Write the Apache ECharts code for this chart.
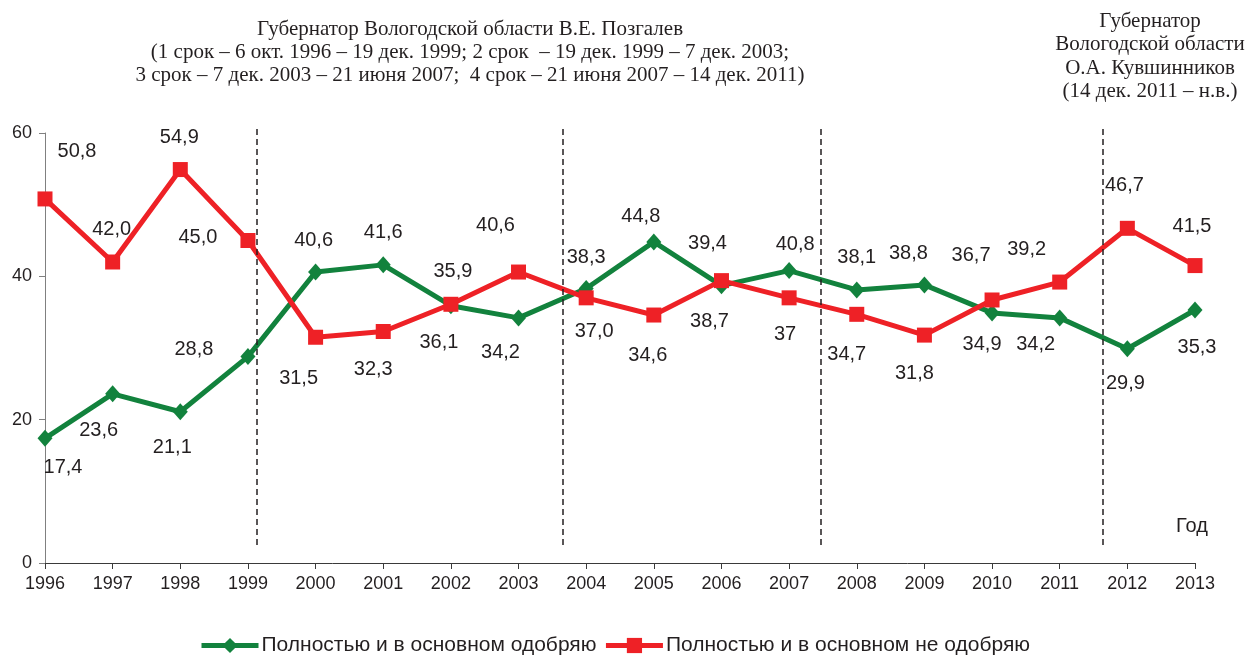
<!DOCTYPE html>
<html>
<head>
<meta charset="utf-8">
<script src="https://cdn.jsdelivr.net/npm/echarts@6/dist/echarts.min.js"></script>
<style>
html,body{margin:0;padding:0;background:#fff;}
#chart{width:1249px;height:657px;}
</style>
</head>
<body>
<div id="chart"></div>
<script>
// ---- data ----
const years = [1996,1997,1998,1999,2000,2001,2002,2003,2004,2005,2006,2007,2008,2009,2010,2011,2012,2013];
const approve = [17.4,23.6,21.1,28.8,40.6,41.6,35.9,34.2,38.3,44.8,38.7,40.8,38.1,38.8,34.9,34.2,29.9,35.3];
const disapprove = [50.8,42.0,54.9,45.0,31.5,32.3,36.1,40.6,37.0,34.6,39.4,37,34.7,31.8,36.7,39.2,46.7,41.5];
const seriesNames = ['Полностью и в основном одобряю', 'Полностью и в основном не одобряю'];
const yTicks = [0, 20, 40, 60];
const termBoundaries = [1999.13, 2003.65, 2007.47, 2011.64];
const integerLabelYearsDisapprove = [2007];

// ---- label layout (style, not data) ----
const approveLabelOffsets = [[18,29],[-14,37],[-8,36],[-54,-7],[-2,-32],[0,-32],[2,-34],[-18,35],[0,-31],[-13,-25],[-12,36],[6,-26],[0,-32],[-16,-31],[-10,32],[-24,27],[-2,35],[2,37]];
const disapproveLabelOffsets = [[32,-47],[-1,-33],[-1,-32],[-50,-3],[-17,41],[-10,38],[-12,38],[-23,-47],[8,34],[-6,40],[-14,-37],[-4,37],[-10,40],[-10,38],[-21,-44],[-33,-33],[-3,-43],[-3,-39]];

const GREEN = '#12823D';
const RED = '#EE2126';
const TEXT = '#231F20';
const SANS = '"Liberation Sans", Arial, sans-serif';
const SERIF = '"Liberation Serif", "Times New Roman", serif';

function fmt(v, integerYears, year) {
  if (integerYears && integerYears.indexOf(year) >= 0) return String(Math.round(v));
  return v.toFixed(1).replace('.', ',');
}

function buildData(values, offsets, integerYears) {
  return years.map((y, i) => ({
    value: [y, values[i]],
    label: {
      offset: offsets[i],
      formatter: fmt(values[i], integerYears, y)
    }
  }));
}

const labelBase = {
  show: true,
  position: 'inside',
  color: TEXT,
  fontFamily: SANS,
  fontSize: 20
};

const chart = echarts.init(document.getElementById('chart'), null, {renderer: 'canvas'});

const option = {
  animation: false,
  backgroundColor: '#fff',
  grid: [
    {left: 45, right: 54, top: 133, bottom: 94},
    {left: 45, right: 54, top: 126, bottom: 112}
  ],
  xAxis: [
    {
      type: 'value', gridIndex: 0, min: years[0], max: years[years.length - 1], interval: 1,
      axisLine: {show: true, lineStyle: {color: '#3a3a3a', width: 1}},
      axisTick: {show: true, length: 6, lineStyle: {color: '#3a3a3a'}},
      splitLine: {show: false},
      axisLabel: {
        color: TEXT, fontSize: 18, margin: 12,
        fontFamily: SANS,
        formatter: v => String(v)
      }
    },
    {type: 'value', gridIndex: 1, min: years[0], max: years[years.length - 1], show: false}
  ],
  yAxis: [
    {
      type: 'value', gridIndex: 0, min: yTicks[0], max: yTicks[yTicks.length - 1], interval: 20,
      axisLine: {show: true, lineStyle: {color: '#808080', width: 1}},
      axisTick: {show: true, length: 6, lineStyle: {color: '#808080'}},
      splitLine: {show: false},
      axisLabel: {color: TEXT, fontSize: 18, margin: 13, fontFamily: SANS}
    },
    {type: 'value', gridIndex: 1, min: 0, max: 1, show: false}
  ],
  legend: {
    left: 199,
    top: 635,
    padding: 0,
    itemWidth: 57,
    itemHeight: 19,
    itemGap: 7,
    data: seriesNames,
    lineStyle: {width: 5},
    textStyle: {color: TEXT, fontSize: 21, fontFamily: SANS, padding: [0,0,0,-2]}
  },
  series: [
    {
      name: seriesNames[0],
      type: 'line',
      xAxisIndex: 0, yAxisIndex: 0,
      data: buildData(approve, approveLabelOffsets, null),
      symbol: 'diamond',
      symbolSize: [15, 17],
      itemStyle: {color: GREEN},
      lineStyle: {color: GREEN, width: 5},
      label: labelBase,
      z: 3
    },
    {
      name: seriesNames[1],
      type: 'line',
      xAxisIndex: 0, yAxisIndex: 0,
      data: buildData(disapprove, disapproveLabelOffsets, integerLabelYearsDisapprove),
      symbol: 'rect',
      symbolSize: 15,
      itemStyle: {color: RED},
      lineStyle: {color: RED, width: 5},
      label: labelBase,
      z: 4
    },
    {
      name: 'boundaries',
      type: 'line',
      xAxisIndex: 1, yAxisIndex: 1,
      data: [],
      silent: true,
      markLine: {
        silent: true,
        symbol: ['none', 'none'],
        label: {show: false},
        lineStyle: {color: TEXT, type: [6, 4], width: 1.5},
        emphasis: {disabled: true},
        data: termBoundaries.map(x => ({xAxis: x}))
      },
      z: 1
    }
  ],
  graphic: [
    {
      type: 'text', x: 470, y: 18,
      style: {
        text: 'Губернатор Вологодской области В.Е. Позгалев\n(1 срок – 6 окт. 1996 – 19 дек. 1999; 2 срок  – 19 дек. 1999 – 7 дек. 2003;\n3 срок – 7 дек. 2003 – 21 июня 2007;  4 срок – 21 июня 2007 – 14 дек. 2011)',
        align: 'center', verticalAlign: 'top',
        font: '21px ' + SERIF,
        lineHeight: 23, fill: TEXT
      }
    },
    {
      type: 'text', x: 1150, y: 10,
      style: {
        text: 'Губернатор\nВологодской области\nО.А. Кувшинников\n(14 дек. 2011 – н.в.)',
        align: 'center', verticalAlign: 'top',
        font: '21px ' + SERIF,
        lineHeight: 23.3, fill: TEXT
      }
    },
    {
      type: 'text', x: 1192, y: 526,
      style: {
        text: 'Год', align: 'center', verticalAlign: 'middle',
        font: '20px ' + SANS, fill: TEXT
      }
    }
  ]
};

chart.setOption(option);
</script>
</body>
</html>
